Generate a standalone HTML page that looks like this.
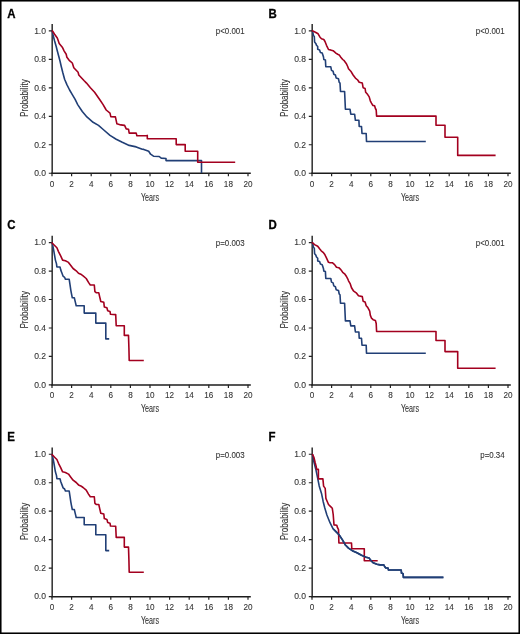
<!DOCTYPE html>
<html><head><meta charset="utf-8"><style>
html,body{margin:0;padding:0;background:#fff;}
body{width:520px;height:634px;overflow:hidden;}
svg{display:block;will-change:transform;font-family:"Liberation Sans",sans-serif;}
text{stroke:#333;stroke-width:0.1px;paint-order:stroke;}
text.L{stroke:#000;stroke-width:0.3px;}
</style></head><body>
<svg width="520" height="634" viewBox="0 0 520 634">
<rect x="0" y="0" width="520" height="634" fill="#fff"/>
<g transform="translate(0,0)">
<text transform="translate(7.3,17.75) scale(0.94,1)" class="L" font-size="12.2" font-weight="bold" fill="#000">A</text>
<path d="M52.2 24.0V173.79999999999998" stroke="#3a3a3a" stroke-width="1.6" fill="none"/>
<path d="M51.3 173.35H250.8" stroke="#1c1c1c" stroke-width="1.5" fill="none"/>
<path d="M48.80 173.25H52.0M48.80 144.77H52.0M48.80 116.29H52.0M48.80 87.81H52.0M48.80 59.33H52.0M48.80 30.85H52.0M52.00 173.1V176.30M71.60 173.1V176.30M91.20 173.1V176.30M110.80 173.1V176.30M130.40 173.1V176.30M150.00 173.1V176.30M169.60 173.1V176.30M189.20 173.1V176.30M208.80 173.1V176.30M228.40 173.1V176.30M248.00 173.1V176.30" stroke="#222" stroke-width="1.2" fill="none"/>
<text transform="translate(46.00,176.00) scale(0.9,1)" font-size="9.5" text-anchor="end" fill="#333">0.0</text>
<text transform="translate(46.00,147.52) scale(0.9,1)" font-size="9.5" text-anchor="end" fill="#333">0.2</text>
<text transform="translate(46.00,119.04) scale(0.9,1)" font-size="9.5" text-anchor="end" fill="#333">0.4</text>
<text transform="translate(46.00,90.56) scale(0.9,1)" font-size="9.5" text-anchor="end" fill="#333">0.6</text>
<text transform="translate(46.00,62.08) scale(0.9,1)" font-size="9.5" text-anchor="end" fill="#333">0.8</text>
<text transform="translate(46.00,33.60) scale(0.9,1)" font-size="9.5" text-anchor="end" fill="#333">1.0</text>
<text transform="translate(52.00,186.70) scale(0.86,1)" font-size="9.5" text-anchor="middle" fill="#333">0</text>
<text transform="translate(71.60,186.70) scale(0.86,1)" font-size="9.5" text-anchor="middle" fill="#333">2</text>
<text transform="translate(91.20,186.70) scale(0.86,1)" font-size="9.5" text-anchor="middle" fill="#333">4</text>
<text transform="translate(110.80,186.70) scale(0.86,1)" font-size="9.5" text-anchor="middle" fill="#333">6</text>
<text transform="translate(130.40,186.70) scale(0.86,1)" font-size="9.5" text-anchor="middle" fill="#333">8</text>
<text transform="translate(150.00,186.70) scale(0.86,1)" font-size="9.5" text-anchor="middle" fill="#333">10</text>
<text transform="translate(169.60,186.70) scale(0.86,1)" font-size="9.5" text-anchor="middle" fill="#333">12</text>
<text transform="translate(189.20,186.70) scale(0.86,1)" font-size="9.5" text-anchor="middle" fill="#333">14</text>
<text transform="translate(208.80,186.70) scale(0.86,1)" font-size="9.5" text-anchor="middle" fill="#333">16</text>
<text transform="translate(228.40,186.70) scale(0.86,1)" font-size="9.5" text-anchor="middle" fill="#333">18</text>
<text transform="translate(248.00,186.70) scale(0.86,1)" font-size="9.5" text-anchor="middle" fill="#333">20</text>
<text x="150" y="200.6" font-size="10.5" text-anchor="middle" textLength="18" lengthAdjust="spacingAndGlyphs" fill="#333">Years</text>
<text transform="translate(28.3,98.1) rotate(-90)" x="0" y="0" font-size="10" text-anchor="middle" textLength="37.6" lengthAdjust="spacingAndGlyphs" fill="#333">Probability</text>
<text transform="translate(244.60,34.10) scale(0.84,1)" font-size="9.4" text-anchor="end" fill="#333">p&lt;0.001</text>
</g>
<g transform="translate(260,0)">
<text transform="translate(8.4,17.75) scale(0.94,1)" class="L" font-size="12.2" font-weight="bold" fill="#000">B</text>
<path d="M52.2 24.0V173.79999999999998" stroke="#3a3a3a" stroke-width="1.6" fill="none"/>
<path d="M51.3 173.35H250.8" stroke="#1c1c1c" stroke-width="1.5" fill="none"/>
<path d="M48.80 173.25H52.0M48.80 144.77H52.0M48.80 116.29H52.0M48.80 87.81H52.0M48.80 59.33H52.0M48.80 30.85H52.0M52.00 173.1V176.30M71.60 173.1V176.30M91.20 173.1V176.30M110.80 173.1V176.30M130.40 173.1V176.30M150.00 173.1V176.30M169.60 173.1V176.30M189.20 173.1V176.30M208.80 173.1V176.30M228.40 173.1V176.30M248.00 173.1V176.30" stroke="#222" stroke-width="1.2" fill="none"/>
<text transform="translate(46.00,176.00) scale(0.9,1)" font-size="9.5" text-anchor="end" fill="#333">0.0</text>
<text transform="translate(46.00,147.52) scale(0.9,1)" font-size="9.5" text-anchor="end" fill="#333">0.2</text>
<text transform="translate(46.00,119.04) scale(0.9,1)" font-size="9.5" text-anchor="end" fill="#333">0.4</text>
<text transform="translate(46.00,90.56) scale(0.9,1)" font-size="9.5" text-anchor="end" fill="#333">0.6</text>
<text transform="translate(46.00,62.08) scale(0.9,1)" font-size="9.5" text-anchor="end" fill="#333">0.8</text>
<text transform="translate(46.00,33.60) scale(0.9,1)" font-size="9.5" text-anchor="end" fill="#333">1.0</text>
<text transform="translate(52.00,186.70) scale(0.86,1)" font-size="9.5" text-anchor="middle" fill="#333">0</text>
<text transform="translate(71.60,186.70) scale(0.86,1)" font-size="9.5" text-anchor="middle" fill="#333">2</text>
<text transform="translate(91.20,186.70) scale(0.86,1)" font-size="9.5" text-anchor="middle" fill="#333">4</text>
<text transform="translate(110.80,186.70) scale(0.86,1)" font-size="9.5" text-anchor="middle" fill="#333">6</text>
<text transform="translate(130.40,186.70) scale(0.86,1)" font-size="9.5" text-anchor="middle" fill="#333">8</text>
<text transform="translate(150.00,186.70) scale(0.86,1)" font-size="9.5" text-anchor="middle" fill="#333">10</text>
<text transform="translate(169.60,186.70) scale(0.86,1)" font-size="9.5" text-anchor="middle" fill="#333">12</text>
<text transform="translate(189.20,186.70) scale(0.86,1)" font-size="9.5" text-anchor="middle" fill="#333">14</text>
<text transform="translate(208.80,186.70) scale(0.86,1)" font-size="9.5" text-anchor="middle" fill="#333">16</text>
<text transform="translate(228.40,186.70) scale(0.86,1)" font-size="9.5" text-anchor="middle" fill="#333">18</text>
<text transform="translate(248.00,186.70) scale(0.86,1)" font-size="9.5" text-anchor="middle" fill="#333">20</text>
<text x="150" y="200.6" font-size="10.5" text-anchor="middle" textLength="18" lengthAdjust="spacingAndGlyphs" fill="#333">Years</text>
<text transform="translate(28.3,98.1) rotate(-90)" x="0" y="0" font-size="10" text-anchor="middle" textLength="37.6" lengthAdjust="spacingAndGlyphs" fill="#333">Probability</text>
<text transform="translate(244.60,34.10) scale(0.84,1)" font-size="9.4" text-anchor="end" fill="#333">p&lt;0.001</text>
</g>
<g transform="translate(0,211.7)">
<text transform="translate(7.3,17.75) scale(0.94,1)" class="L" font-size="12.2" font-weight="bold" fill="#000">C</text>
<path d="M52.2 24.0V173.79999999999998" stroke="#3a3a3a" stroke-width="1.6" fill="none"/>
<path d="M51.3 173.35H250.8" stroke="#1c1c1c" stroke-width="1.5" fill="none"/>
<path d="M48.80 173.25H52.0M48.80 144.77H52.0M48.80 116.29H52.0M48.80 87.81H52.0M48.80 59.33H52.0M48.80 30.85H52.0M52.00 173.1V176.30M71.60 173.1V176.30M91.20 173.1V176.30M110.80 173.1V176.30M130.40 173.1V176.30M150.00 173.1V176.30M169.60 173.1V176.30M189.20 173.1V176.30M208.80 173.1V176.30M228.40 173.1V176.30M248.00 173.1V176.30" stroke="#222" stroke-width="1.2" fill="none"/>
<text transform="translate(46.00,176.00) scale(0.9,1)" font-size="9.5" text-anchor="end" fill="#333">0.0</text>
<text transform="translate(46.00,147.52) scale(0.9,1)" font-size="9.5" text-anchor="end" fill="#333">0.2</text>
<text transform="translate(46.00,119.04) scale(0.9,1)" font-size="9.5" text-anchor="end" fill="#333">0.4</text>
<text transform="translate(46.00,90.56) scale(0.9,1)" font-size="9.5" text-anchor="end" fill="#333">0.6</text>
<text transform="translate(46.00,62.08) scale(0.9,1)" font-size="9.5" text-anchor="end" fill="#333">0.8</text>
<text transform="translate(46.00,33.60) scale(0.9,1)" font-size="9.5" text-anchor="end" fill="#333">1.0</text>
<text transform="translate(52.00,186.70) scale(0.86,1)" font-size="9.5" text-anchor="middle" fill="#333">0</text>
<text transform="translate(71.60,186.70) scale(0.86,1)" font-size="9.5" text-anchor="middle" fill="#333">2</text>
<text transform="translate(91.20,186.70) scale(0.86,1)" font-size="9.5" text-anchor="middle" fill="#333">4</text>
<text transform="translate(110.80,186.70) scale(0.86,1)" font-size="9.5" text-anchor="middle" fill="#333">6</text>
<text transform="translate(130.40,186.70) scale(0.86,1)" font-size="9.5" text-anchor="middle" fill="#333">8</text>
<text transform="translate(150.00,186.70) scale(0.86,1)" font-size="9.5" text-anchor="middle" fill="#333">10</text>
<text transform="translate(169.60,186.70) scale(0.86,1)" font-size="9.5" text-anchor="middle" fill="#333">12</text>
<text transform="translate(189.20,186.70) scale(0.86,1)" font-size="9.5" text-anchor="middle" fill="#333">14</text>
<text transform="translate(208.80,186.70) scale(0.86,1)" font-size="9.5" text-anchor="middle" fill="#333">16</text>
<text transform="translate(228.40,186.70) scale(0.86,1)" font-size="9.5" text-anchor="middle" fill="#333">18</text>
<text transform="translate(248.00,186.70) scale(0.86,1)" font-size="9.5" text-anchor="middle" fill="#333">20</text>
<text x="150" y="200.6" font-size="10.5" text-anchor="middle" textLength="18" lengthAdjust="spacingAndGlyphs" fill="#333">Years</text>
<text transform="translate(28.3,98.1) rotate(-90)" x="0" y="0" font-size="10" text-anchor="middle" textLength="37.6" lengthAdjust="spacingAndGlyphs" fill="#333">Probability</text>
<text transform="translate(244.60,34.10) scale(0.84,1)" font-size="9.4" text-anchor="end" fill="#333">p=0.003</text>
</g>
<g transform="translate(260,211.7)">
<text transform="translate(8.4,17.75) scale(0.94,1)" class="L" font-size="12.2" font-weight="bold" fill="#000">D</text>
<path d="M52.2 24.0V173.79999999999998" stroke="#3a3a3a" stroke-width="1.6" fill="none"/>
<path d="M51.3 173.35H250.8" stroke="#1c1c1c" stroke-width="1.5" fill="none"/>
<path d="M48.80 173.25H52.0M48.80 144.77H52.0M48.80 116.29H52.0M48.80 87.81H52.0M48.80 59.33H52.0M48.80 30.85H52.0M52.00 173.1V176.30M71.60 173.1V176.30M91.20 173.1V176.30M110.80 173.1V176.30M130.40 173.1V176.30M150.00 173.1V176.30M169.60 173.1V176.30M189.20 173.1V176.30M208.80 173.1V176.30M228.40 173.1V176.30M248.00 173.1V176.30" stroke="#222" stroke-width="1.2" fill="none"/>
<text transform="translate(46.00,176.00) scale(0.9,1)" font-size="9.5" text-anchor="end" fill="#333">0.0</text>
<text transform="translate(46.00,147.52) scale(0.9,1)" font-size="9.5" text-anchor="end" fill="#333">0.2</text>
<text transform="translate(46.00,119.04) scale(0.9,1)" font-size="9.5" text-anchor="end" fill="#333">0.4</text>
<text transform="translate(46.00,90.56) scale(0.9,1)" font-size="9.5" text-anchor="end" fill="#333">0.6</text>
<text transform="translate(46.00,62.08) scale(0.9,1)" font-size="9.5" text-anchor="end" fill="#333">0.8</text>
<text transform="translate(46.00,33.60) scale(0.9,1)" font-size="9.5" text-anchor="end" fill="#333">1.0</text>
<text transform="translate(52.00,186.70) scale(0.86,1)" font-size="9.5" text-anchor="middle" fill="#333">0</text>
<text transform="translate(71.60,186.70) scale(0.86,1)" font-size="9.5" text-anchor="middle" fill="#333">2</text>
<text transform="translate(91.20,186.70) scale(0.86,1)" font-size="9.5" text-anchor="middle" fill="#333">4</text>
<text transform="translate(110.80,186.70) scale(0.86,1)" font-size="9.5" text-anchor="middle" fill="#333">6</text>
<text transform="translate(130.40,186.70) scale(0.86,1)" font-size="9.5" text-anchor="middle" fill="#333">8</text>
<text transform="translate(150.00,186.70) scale(0.86,1)" font-size="9.5" text-anchor="middle" fill="#333">10</text>
<text transform="translate(169.60,186.70) scale(0.86,1)" font-size="9.5" text-anchor="middle" fill="#333">12</text>
<text transform="translate(189.20,186.70) scale(0.86,1)" font-size="9.5" text-anchor="middle" fill="#333">14</text>
<text transform="translate(208.80,186.70) scale(0.86,1)" font-size="9.5" text-anchor="middle" fill="#333">16</text>
<text transform="translate(228.40,186.70) scale(0.86,1)" font-size="9.5" text-anchor="middle" fill="#333">18</text>
<text transform="translate(248.00,186.70) scale(0.86,1)" font-size="9.5" text-anchor="middle" fill="#333">20</text>
<text x="150" y="200.6" font-size="10.5" text-anchor="middle" textLength="18" lengthAdjust="spacingAndGlyphs" fill="#333">Years</text>
<text transform="translate(28.3,98.1) rotate(-90)" x="0" y="0" font-size="10" text-anchor="middle" textLength="37.6" lengthAdjust="spacingAndGlyphs" fill="#333">Probability</text>
<text transform="translate(244.60,34.10) scale(0.84,1)" font-size="9.4" text-anchor="end" fill="#333">p&lt;0.001</text>
</g>
<g transform="translate(0,423.4)">
<text transform="translate(7.3,17.75) scale(0.94,1)" class="L" font-size="12.2" font-weight="bold" fill="#000">E</text>
<path d="M52.2 24.0V173.79999999999998" stroke="#3a3a3a" stroke-width="1.6" fill="none"/>
<path d="M51.3 173.35H250.8" stroke="#1c1c1c" stroke-width="1.5" fill="none"/>
<path d="M48.80 173.25H52.0M48.80 144.77H52.0M48.80 116.29H52.0M48.80 87.81H52.0M48.80 59.33H52.0M48.80 30.85H52.0M52.00 173.1V176.30M71.60 173.1V176.30M91.20 173.1V176.30M110.80 173.1V176.30M130.40 173.1V176.30M150.00 173.1V176.30M169.60 173.1V176.30M189.20 173.1V176.30M208.80 173.1V176.30M228.40 173.1V176.30M248.00 173.1V176.30" stroke="#222" stroke-width="1.2" fill="none"/>
<text transform="translate(46.00,176.00) scale(0.9,1)" font-size="9.5" text-anchor="end" fill="#333">0.0</text>
<text transform="translate(46.00,147.52) scale(0.9,1)" font-size="9.5" text-anchor="end" fill="#333">0.2</text>
<text transform="translate(46.00,119.04) scale(0.9,1)" font-size="9.5" text-anchor="end" fill="#333">0.4</text>
<text transform="translate(46.00,90.56) scale(0.9,1)" font-size="9.5" text-anchor="end" fill="#333">0.6</text>
<text transform="translate(46.00,62.08) scale(0.9,1)" font-size="9.5" text-anchor="end" fill="#333">0.8</text>
<text transform="translate(46.00,33.60) scale(0.9,1)" font-size="9.5" text-anchor="end" fill="#333">1.0</text>
<text transform="translate(52.00,186.70) scale(0.86,1)" font-size="9.5" text-anchor="middle" fill="#333">0</text>
<text transform="translate(71.60,186.70) scale(0.86,1)" font-size="9.5" text-anchor="middle" fill="#333">2</text>
<text transform="translate(91.20,186.70) scale(0.86,1)" font-size="9.5" text-anchor="middle" fill="#333">4</text>
<text transform="translate(110.80,186.70) scale(0.86,1)" font-size="9.5" text-anchor="middle" fill="#333">6</text>
<text transform="translate(130.40,186.70) scale(0.86,1)" font-size="9.5" text-anchor="middle" fill="#333">8</text>
<text transform="translate(150.00,186.70) scale(0.86,1)" font-size="9.5" text-anchor="middle" fill="#333">10</text>
<text transform="translate(169.60,186.70) scale(0.86,1)" font-size="9.5" text-anchor="middle" fill="#333">12</text>
<text transform="translate(189.20,186.70) scale(0.86,1)" font-size="9.5" text-anchor="middle" fill="#333">14</text>
<text transform="translate(208.80,186.70) scale(0.86,1)" font-size="9.5" text-anchor="middle" fill="#333">16</text>
<text transform="translate(228.40,186.70) scale(0.86,1)" font-size="9.5" text-anchor="middle" fill="#333">18</text>
<text transform="translate(248.00,186.70) scale(0.86,1)" font-size="9.5" text-anchor="middle" fill="#333">20</text>
<text x="150" y="200.6" font-size="10.5" text-anchor="middle" textLength="18" lengthAdjust="spacingAndGlyphs" fill="#333">Years</text>
<text transform="translate(28.3,98.1) rotate(-90)" x="0" y="0" font-size="10" text-anchor="middle" textLength="37.6" lengthAdjust="spacingAndGlyphs" fill="#333">Probability</text>
<text transform="translate(244.60,34.10) scale(0.84,1)" font-size="9.4" text-anchor="end" fill="#333">p=0.003</text>
</g>
<g transform="translate(260,423.4)">
<text transform="translate(8.4,17.75) scale(0.94,1)" class="L" font-size="12.2" font-weight="bold" fill="#000">F</text>
<path d="M52.2 24.0V173.79999999999998" stroke="#3a3a3a" stroke-width="1.6" fill="none"/>
<path d="M51.3 173.35H250.8" stroke="#1c1c1c" stroke-width="1.5" fill="none"/>
<path d="M48.80 173.25H52.0M48.80 144.77H52.0M48.80 116.29H52.0M48.80 87.81H52.0M48.80 59.33H52.0M48.80 30.85H52.0M52.00 173.1V176.30M71.60 173.1V176.30M91.20 173.1V176.30M110.80 173.1V176.30M130.40 173.1V176.30M150.00 173.1V176.30M169.60 173.1V176.30M189.20 173.1V176.30M208.80 173.1V176.30M228.40 173.1V176.30M248.00 173.1V176.30" stroke="#222" stroke-width="1.2" fill="none"/>
<text transform="translate(46.00,176.00) scale(0.9,1)" font-size="9.5" text-anchor="end" fill="#333">0.0</text>
<text transform="translate(46.00,147.52) scale(0.9,1)" font-size="9.5" text-anchor="end" fill="#333">0.2</text>
<text transform="translate(46.00,119.04) scale(0.9,1)" font-size="9.5" text-anchor="end" fill="#333">0.4</text>
<text transform="translate(46.00,90.56) scale(0.9,1)" font-size="9.5" text-anchor="end" fill="#333">0.6</text>
<text transform="translate(46.00,62.08) scale(0.9,1)" font-size="9.5" text-anchor="end" fill="#333">0.8</text>
<text transform="translate(46.00,33.60) scale(0.9,1)" font-size="9.5" text-anchor="end" fill="#333">1.0</text>
<text transform="translate(52.00,186.70) scale(0.86,1)" font-size="9.5" text-anchor="middle" fill="#333">0</text>
<text transform="translate(71.60,186.70) scale(0.86,1)" font-size="9.5" text-anchor="middle" fill="#333">2</text>
<text transform="translate(91.20,186.70) scale(0.86,1)" font-size="9.5" text-anchor="middle" fill="#333">4</text>
<text transform="translate(110.80,186.70) scale(0.86,1)" font-size="9.5" text-anchor="middle" fill="#333">6</text>
<text transform="translate(130.40,186.70) scale(0.86,1)" font-size="9.5" text-anchor="middle" fill="#333">8</text>
<text transform="translate(150.00,186.70) scale(0.86,1)" font-size="9.5" text-anchor="middle" fill="#333">10</text>
<text transform="translate(169.60,186.70) scale(0.86,1)" font-size="9.5" text-anchor="middle" fill="#333">12</text>
<text transform="translate(189.20,186.70) scale(0.86,1)" font-size="9.5" text-anchor="middle" fill="#333">14</text>
<text transform="translate(208.80,186.70) scale(0.86,1)" font-size="9.5" text-anchor="middle" fill="#333">16</text>
<text transform="translate(228.40,186.70) scale(0.86,1)" font-size="9.5" text-anchor="middle" fill="#333">18</text>
<text transform="translate(248.00,186.70) scale(0.86,1)" font-size="9.5" text-anchor="middle" fill="#333">20</text>
<text x="150" y="200.6" font-size="10.5" text-anchor="middle" textLength="18" lengthAdjust="spacingAndGlyphs" fill="#333">Years</text>
<text transform="translate(28.3,98.1) rotate(-90)" x="0" y="0" font-size="10" text-anchor="middle" textLength="37.6" lengthAdjust="spacingAndGlyphs" fill="#333">Probability</text>
<text transform="translate(244.60,34.10) scale(0.84,1)" font-size="9.4" text-anchor="end" fill="#333">p=0.34</text>
</g>
<path d="M52.0 30.4 L52.3 31.2 L53.1 35.3 L54.6 41.0 L56.2 46.5 L57.4 51.2 L58.8 56.5 L60.0 61.0 L61.2 66.2 L62.7 72.3 L64.6 79.2 L66.9 84.6 L69.6 90.0 L72.3 94.6 L75.0 99.2 L77.7 104.6 L82.3 111.5 L86.9 116.9 L93.1 122.3 L98.5 125.4 L103.8 130.0 L110.0 135.4 L116.2 139.2 L122.3 142.3 L129.2 145.4 L136.2 146.9 L142.3 149.2 L143.8 149.4 L148.7 151.3 L150.6 154.2 L153.5 156.2 L159.2 156.5 L161.2 158.1 L166.0 158.5 L166.0 160.6 L201.5 160.6 L201.5 173.1" stroke="#213f76" stroke-width="1.6" fill="none" stroke-linejoin="round" stroke-linecap="butt"/>
<path d="M52.0 30.4 L52.3 30.7 L54.6 34.2 L57.3 38.0 L58.1 40.3 L59.2 43.4 L62.3 47.2 L64.2 51.1 L66.2 54.2 L66.9 57.2 L69.2 60.3 L72.3 63.0 L73.8 67.7 L78.1 72.3 L78.8 75.0 L84.2 80.8 L86.5 83.1 L90.4 87.7 L94.6 92.3 L100.0 100.0 L103.1 104.6 L106.2 110.0 L110.0 113.1 L110.8 116.6 L115.4 116.9 L116.9 123.8 L120.8 124.9 L124.6 125.4 L126.2 128.9 L128.5 129.2 L129.2 133.1 L136.2 133.1 L136.9 135.7 L146.9 135.7 L147.3 135.4 L147.3 138.8 L176.2 138.8 L176.2 144.6 L185.2 144.6 L185.2 151.3 L197.7 151.3 L197.7 162.3 L235.2 162.3" stroke="#a3001f" stroke-width="1.6" fill="none" stroke-linejoin="round" stroke-linecap="butt"/>
<path d="M312.0 30.4 L312.6 31.2 L313.4 35.5 L314.3 36.5 L314.6 42.0 L315.8 43.4 L316.5 45.3 L317.7 46.5 L317.7 49.3 L319.6 49.9 L320.4 52.4 L322.2 53.0 L322.7 54.6 L323.5 57.0 L323.8 59.4 L325.4 59.9 L325.8 66.8 L330.8 66.8 L331.5 70.4 L333.1 71.2 L333.8 74.2 L335.4 75.0 L336.2 78.1 L338.5 78.8 L339.2 82.3 L340.0 83.1 L340.5 91.5 L344.6 91.5 L345.4 109.2 L350.0 109.2 L350.8 114.2 L354.6 114.2 L355.4 120.3 L358.9 120.3 L359.2 126.5 L361.5 126.5 L362.0 133.5 L366.2 133.5 L366.5 141.5 L425.8 141.5" stroke="#213f76" stroke-width="1.6" fill="none" stroke-linejoin="round" stroke-linecap="butt"/>
<path d="M312.0 30.4 L312.3 30.7 L315.4 32.2 L318.1 33.8 L320.0 37.2 L321.5 38.8 L323.8 39.5 L325.0 41.5 L326.5 45.3 L328.5 49.5 L330.4 49.9 L333.1 50.7 L336.2 53.4 L337.7 54.3 L339.2 54.9 L340.8 57.2 L342.7 59.5 L344.2 60.7 L346.2 63.4 L347.7 66.5 L348.5 68.8 L350.8 71.2 L353.1 75.0 L355.4 78.1 L357.7 80.0 L359.2 82.3 L362.3 83.1 L363.1 87.7 L365.1 88.5 L365.7 92.3 L367.7 94.6 L369.2 96.9 L370.3 100.8 L371.5 103.1 L372.8 105.4 L374.6 105.8 L375.4 108.5 L376.2 110.0 L376.6 116.1 L436.0 116.1 L436.0 125.2 L445.0 125.2 L445.0 137.3 L457.7 137.3 L457.7 155.4 L495.6 155.4" stroke="#a3001f" stroke-width="1.6" fill="none" stroke-linejoin="round" stroke-linecap="butt"/>
<path d="M52.0 242.2 L52.3 243.2 L53.8 250.8 L55.4 260.1 L56.5 263.9 L56.9 267.0 L60.0 267.0 L60.8 270.1 L62.0 273.2 L63.1 276.2 L64.6 277.3 L65.4 279.3 L69.2 279.3 L70.0 284.7 L70.8 290.1 L71.5 293.9 L72.3 297.8 L74.3 297.8 L75.4 302.4 L76.2 305.8 L84.2 305.8 L84.2 313.1 L95.8 313.1 L95.8 323.1 L105.8 323.1 L105.8 338.9 L109.2 338.9" stroke="#213f76" stroke-width="1.6" fill="none" stroke-linejoin="round" stroke-linecap="butt"/>
<path d="M52.0 242.2 L52.3 243.2 L54.6 245.5 L56.9 247.8 L58.5 251.6 L60.8 256.2 L62.6 260.1 L65.4 260.8 L68.5 262.4 L70.8 265.5 L73.1 268.5 L76.2 270.8 L78.5 273.2 L80.8 274.2 L83.1 275.8 L86.2 278.5 L88.5 282.4 L90.3 285.0 L94.3 285.0 L94.9 291.6 L96.2 292.7 L98.8 292.8 L99.7 296.9 L100.8 301.5 L103.8 302.3 L104.3 306.9 L106.9 307.7 L107.7 310.8 L110.0 311.5 L110.5 314.3 L115.7 314.6 L116.2 325.7 L124.3 325.7 L124.3 335.4 L128.5 335.4 L128.9 347.7 L129.2 360.5 L143.8 360.5" stroke="#a3001f" stroke-width="1.6" fill="none" stroke-linejoin="round" stroke-linecap="butt"/>
<path d="M312.0 242.1 L312.6 242.9 L313.4 247.2 L314.3 248.2 L314.6 253.7 L315.8 255.1 L316.5 257.0 L317.7 258.2 L317.7 261.0 L319.6 261.6 L320.4 264.1 L322.2 264.7 L322.7 266.3 L323.5 268.7 L323.8 271.1 L325.4 271.6 L325.8 278.5 L330.8 278.5 L331.5 282.1 L333.1 282.9 L333.8 285.9 L335.4 286.7 L336.2 289.8 L338.5 290.5 L339.2 294.0 L340.0 294.8 L340.5 303.2 L344.6 303.2 L345.4 320.9 L350.0 320.9 L350.8 325.9 L354.6 325.9 L355.4 332.0 L358.9 332.0 L359.2 338.2 L361.5 338.2 L362.0 345.2 L366.2 345.2 L366.5 353.2 L425.8 353.2" stroke="#213f76" stroke-width="1.6" fill="none" stroke-linejoin="round" stroke-linecap="butt"/>
<path d="M312.0 242.2 L312.3 242.7 L314.6 244.6 L317.7 246.2 L319.6 248.8 L321.2 250.8 L323.1 252.3 L324.6 254.2 L326.2 257.3 L328.5 262.3 L330.0 262.7 L332.3 262.7 L334.6 264.6 L336.5 267.3 L338.8 267.7 L340.8 269.6 L342.7 272.3 L344.6 273.8 L346.5 276.5 L347.7 278.8 L348.5 280.8 L350.3 283.9 L351.5 287.8 L353.4 290.8 L356.2 292.8 L358.5 295.8 L362.3 296.6 L363.1 301.2 L365.1 302.0 L366.2 305.8 L367.7 307.4 L369.7 311.2 L370.3 315.1 L371.5 318.2 L373.1 319.7 L375.4 320.5 L376.2 323.5 L376.6 331.5 L436.0 331.5 L436.0 340.5 L445.0 340.5 L445.0 351.6 L457.7 351.6 L457.7 368.3 L495.6 368.3" stroke="#a3001f" stroke-width="1.6" fill="none" stroke-linejoin="round" stroke-linecap="butt"/>
<path d="M52.0 453.9 L52.3 454.9 L53.8 462.5 L55.4 471.8 L56.5 475.6 L56.9 478.7 L60.0 478.7 L60.8 481.8 L62.0 484.9 L63.1 487.9 L64.6 489.0 L65.4 491.0 L69.2 491.0 L70.0 496.4 L70.8 501.8 L71.5 505.6 L72.3 509.5 L74.3 509.5 L75.4 514.1 L76.2 517.5 L84.2 517.5 L84.2 524.8 L95.8 524.8 L95.8 534.8 L105.8 534.8 L105.8 550.6 L109.2 550.6" stroke="#213f76" stroke-width="1.6" fill="none" stroke-linejoin="round" stroke-linecap="butt"/>
<path d="M52.0 453.9 L52.3 454.9 L54.6 457.2 L56.9 459.5 L58.5 463.3 L60.8 467.9 L62.6 471.8 L65.4 472.5 L68.5 474.1 L70.8 477.2 L73.1 480.2 L76.2 482.5 L78.5 484.9 L80.8 485.9 L83.1 487.5 L86.2 490.2 L88.5 494.1 L90.3 496.7 L94.3 496.7 L94.9 503.3 L96.2 504.4 L98.8 504.5 L99.7 508.6 L100.8 513.2 L103.8 514.0 L104.3 518.6 L106.9 519.4 L107.7 522.5 L110.0 523.2 L110.5 526.0 L115.7 526.3 L116.2 537.4 L124.3 537.4 L124.3 547.1 L128.5 547.1 L128.9 559.4 L129.2 572.2 L143.8 572.2" stroke="#a3001f" stroke-width="1.6" fill="none" stroke-linejoin="round" stroke-linecap="butt"/>
<path d="M312.0 454.2 L312.5 454.4 L314.0 462.3 L315.8 469.2 L317.5 477.3 L319.2 485.9 L321.5 493.4 L323.1 501.2 L324.6 507.3 L326.9 515.0 L330.0 522.7 L333.1 528.8 L336.2 531.9 L339.2 535.0 L342.3 539.6 L345.4 545.0 L348.5 548.1 L352.3 550.7 L356.9 552.7 L361.5 555.3 L366.2 557.3 L369.2 558.1 L370.8 560.4 L373.1 562.7 L376.9 564.2 L380.0 564.9 L383.8 564.9 L384.6 566.5 L385.8 568.0 L388.0 568.0 L388.5 570.0 L401.2 570.0 L401.5 573.1 L403.1 573.8 L403.4 577.4 L443.4 577.4" stroke="#213f76" stroke-width="1.6" fill="none" stroke-linejoin="round" stroke-linecap="butt"/>
<path d="M312.0 454.2 L312.5 454.4 L314.0 457.7 L315.2 462.8 L316.3 466.9 L316.6 469.4 L318.4 469.4 L318.4 478.9 L322.9 478.9 L323.6 486.1 L325.2 488.4 L325.9 498.4 L327.1 501.2 L328.5 504.5 L330.4 506.4 L332.3 508.3 L333.2 514.5 L334.0 524.9 L336.8 525.3 L337.5 527.7 L338.5 529.6 L338.9 543.0 L351.5 543.0 L351.8 548.8 L364.3 548.8 L364.3 560.8 L377.7 560.8" stroke="#a3001f" stroke-width="1.6" fill="none" stroke-linejoin="round" stroke-linecap="butt"/>
<path d="M333.1 528.8 L336.2 531.9 L339.2 535.0 L342.3 539.6 L345.4 545.0 L348.5 548.1 L352.3 550.7 L356.9 552.7 L361.5 555.3 L366.2 557.3 L369.2 558.1 L370.8 560.4 L373.1 562.7 L376.9 564.2 L380.0 564.9 L383.8 564.9 L384.6 566.5 L385.8 568.0 L388.0 568.0 L388.5 570.0 L401.2 570.0 L401.5 573.1 L403.1 573.8 L403.4 577.4 L443.4 577.4" stroke="#213f76" stroke-width="1.6" fill="none" stroke-linejoin="round" stroke-linecap="butt"/>
<rect x="0" y="0" width="520" height="634" fill="none" stroke="#000" stroke-width="3.1"/>
</svg>
</body></html>
